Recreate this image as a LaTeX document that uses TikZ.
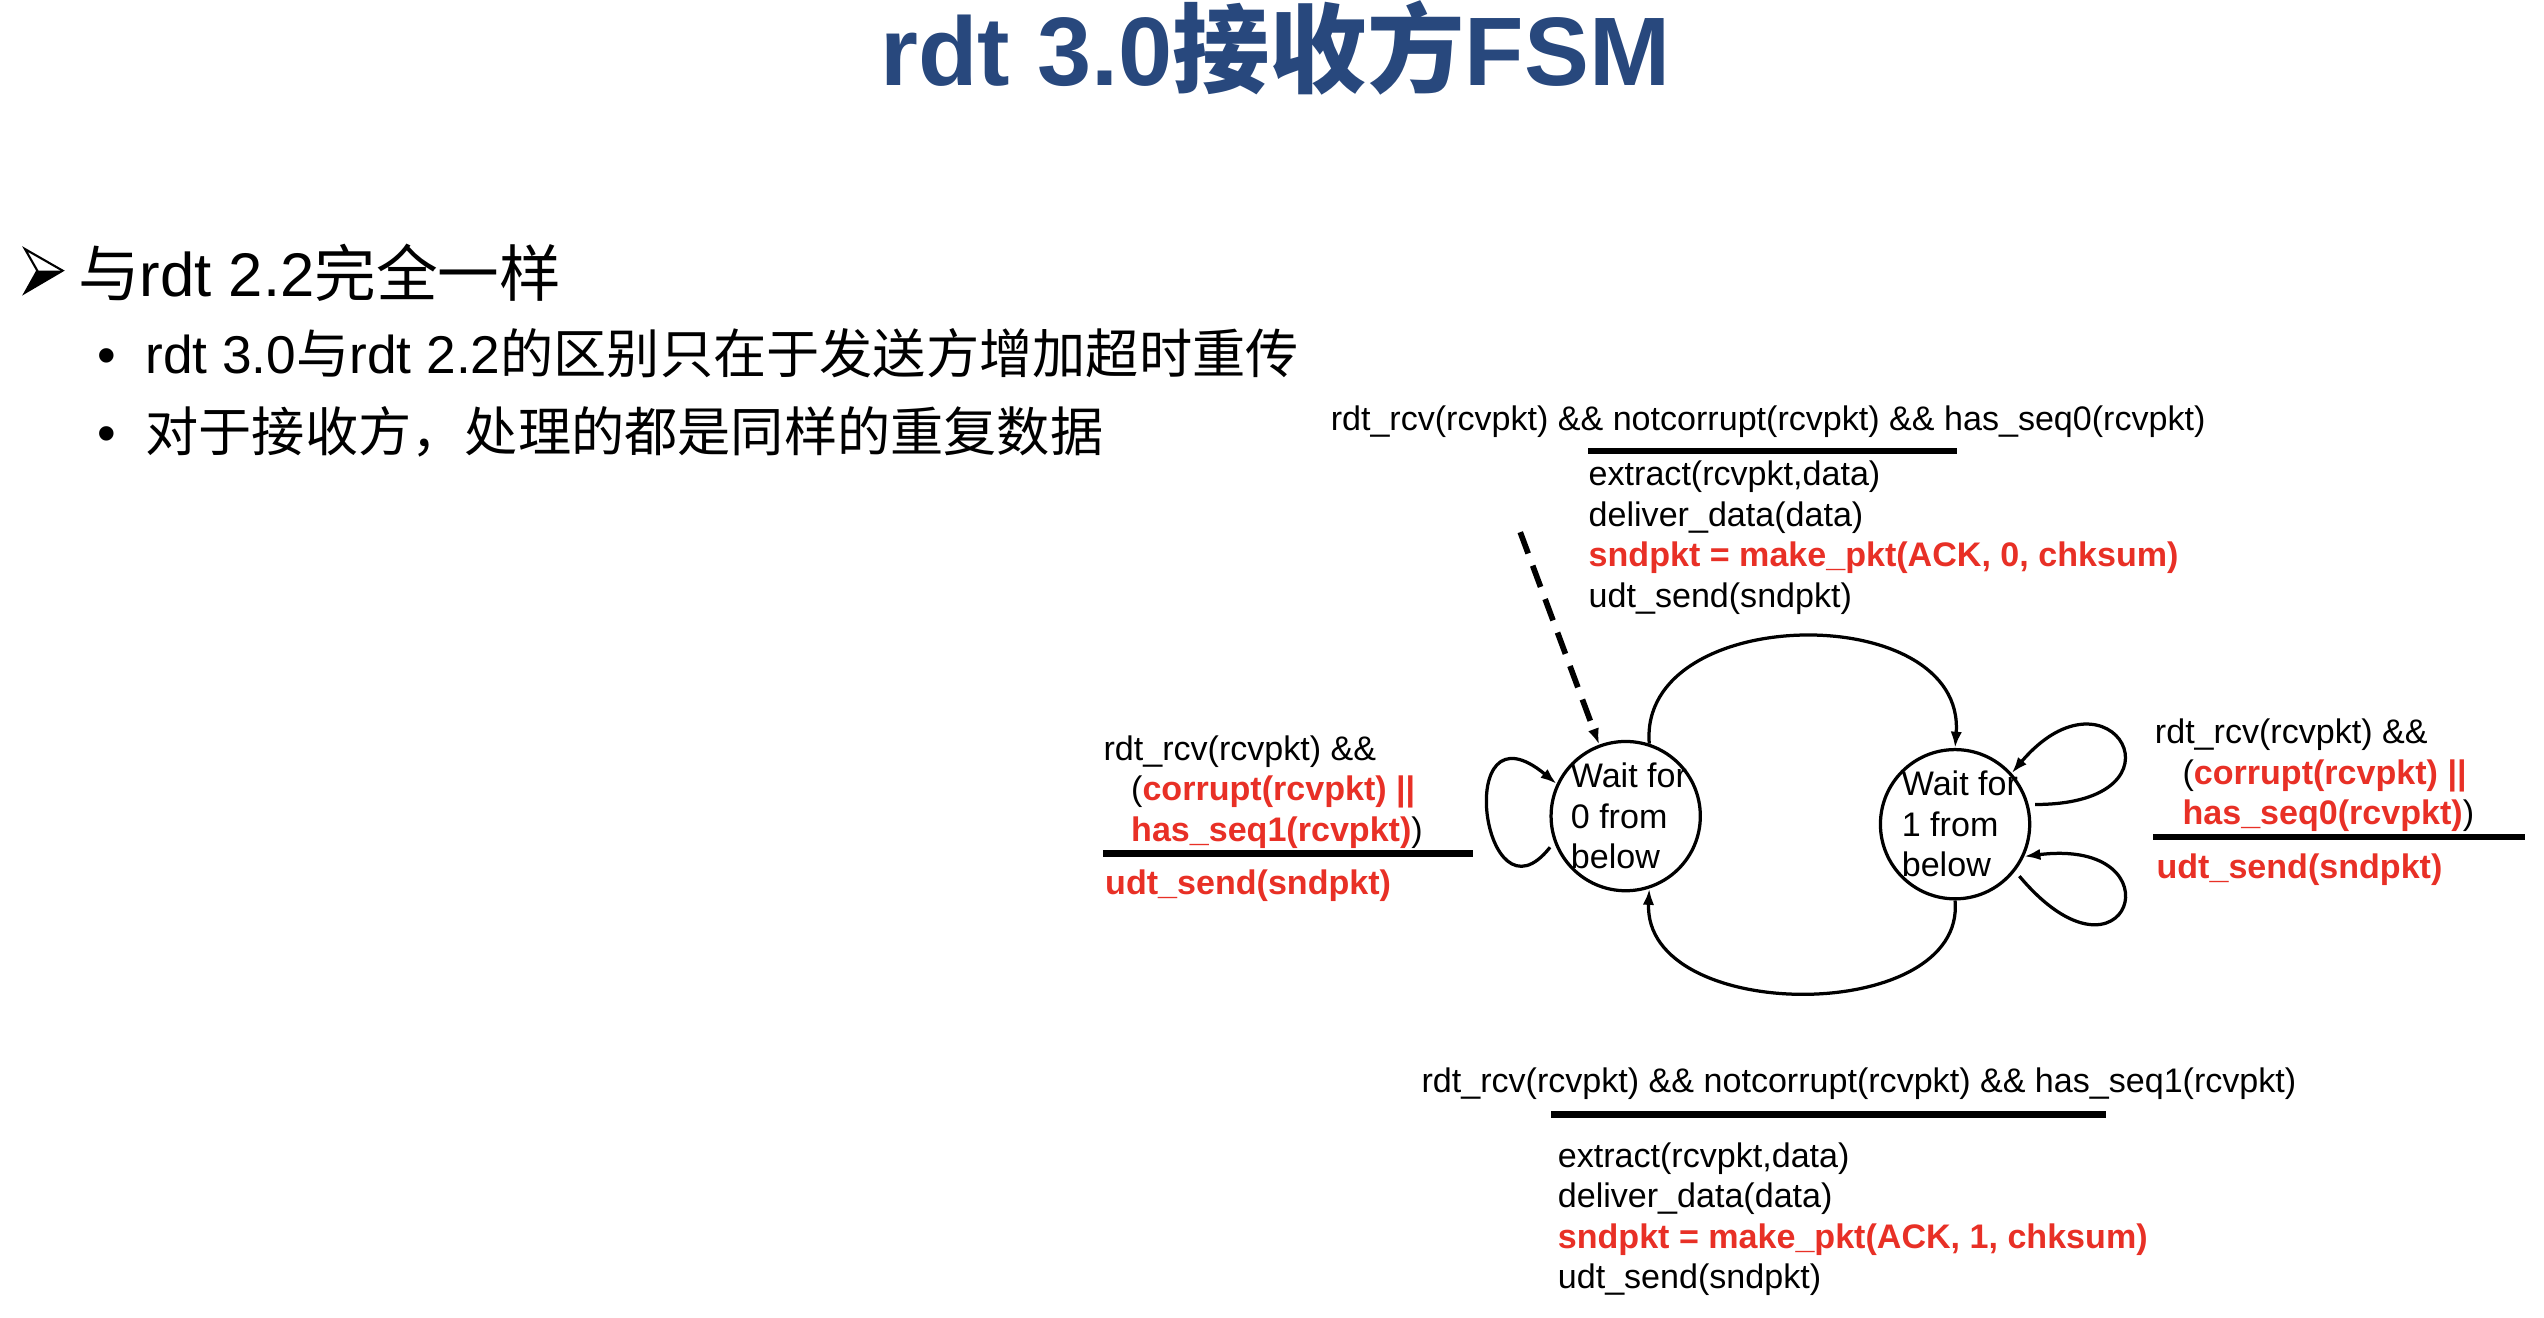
\documentclass[tikz,border=0pt]{standalone}
\usepackage{fontspec}
\setmainfont{Liberation Sans}
\newfontfamily\cjk{Noto Sans CJK SC}
\usetikzlibrary{arrows.meta,positioning}
\definecolor{titleblue}{RGB}{40,72,125}
\definecolor{actred}{RGB}{232,48,38}
\newcommand{\redtxt}[1]{\textcolor{actred}{\bfseries #1}}
\tikzset{%
  >={Latex[width=7pt,length=10pt]},
  % Specifications for style of nodes:
        state/.style = {circle, draw=black, line width=2pt,
                        minimum size=92pt, inner sep=0pt},
       fsmtxt/.style = {inner sep=0pt, align=left,
                        font=\fontsize{21}{25}\selectfont},
        slide/.style = {inner sep=0pt, anchor=west},
  % Specifications for style of lines:
        trans/.style = {line width=2pt, ->},
     selfloop/.style = {trans, shorten <=4pt},
      initarr/.style = {line width=3.5pt, dash pattern=on 14pt off 8pt, ->},
          bar/.style = {line width=4pt}
}
\begin{document}
\begin{tikzpicture}[x=1pt, y=-1pt]
  \useasboundingbox (0,0) rectangle (1568,812);

  \node (title) [inner sep=0pt, anchor=base, text=titleblue,
                 font=\fontsize{60}{64}\selectfont\bfseries] at (786,53) {rdt 3.0{\cjk 接收方}FSM};
  % arrowhead mark
  \draw[line width=1.3pt, line join=miter] (15.4,153.5) -- (38.6,166.8) -- (15.4,180.4) -- (23,166.8) -- cycle;
  \fill (23,166.8) -- (38.6,166.8) -- (15.4,180.4) -- cycle;
  \node (head)  [slide, font=\fontsize{38}{44}\selectfont] at (48,168) {{\cjk 与}rdt 2.2{\cjk 完全一样}};
  \node (item1) [slide, font=\fontsize{32.8}{40}\selectfont] at (60,218)
        {•\hspace*{18pt}rdt 3.0{\cjk 与}rdt 2.2{\cjk 的区别只在于发送方增加超时重传}};
  \node (item2) [slide, font=\fontsize{32.8}{40}\selectfont] at (60,266)
        {•\hspace*{18pt}{\cjk 对于接收方，处理的都是同样的重复数据}};

  % states
  \node (w0) [state] at (1002,503) {};
  \node (w1) [state] at (1205,508) {};
  \node (t0) [fsmtxt, anchor=west] at ([xshift=-34pt]w0.center) {Wait for\\0 from\\below};
  \node (t1) [fsmtxt, anchor=west] at ([xshift=-33pt]w1.center) {Wait for\\1 from\\below};

  % seq0 ok
  \node (g0) [fsmtxt, anchor=west] at (820,260)
        {rdt\_rcv(rcvpkt) \&\& notcorrupt(rcvpkt) \&\& has\_seq0(rcvpkt)};
  \draw[bar] (979,278) -- (1206,278);
  \node (a0) [fsmtxt, anchor=north west] at (979,284)
        {extract(rcvpkt,data)\\deliver\_data(data)\\\redtxt{sndpkt = make\_pkt(ACK, 0, chksum)}\\udt\_send(sndpkt)};

  % seq1 ok
  \node (g1) [fsmtxt, anchor=west] at (876,668)
        {rdt\_rcv(rcvpkt) \&\& notcorrupt(rcvpkt) \&\& has\_seq1(rcvpkt)};
  \draw[bar] (956,687) -- (1298,687);
  \node (a1) [fsmtxt, anchor=north west] at (960,704)
        {extract(rcvpkt,data)\\deliver\_data(data)\\\redtxt{sndpkt = make\_pkt(ACK, 1, chksum)}\\udt\_send(sndpkt)};

  % resend in wait0
  \node (g2) [fsmtxt, anchor=north west] at (680,453)
        {rdt\_rcv(rcvpkt) \&\&\\\hspace*{17pt}(\redtxt{corrupt(rcvpkt) ||}\\\hspace*{17pt}\redtxt{has\_seq1(rcvpkt)})};
  \draw[bar] (680,526) -- (908,526);
  \node (a2) [fsmtxt, anchor=west] at (681,546) {\redtxt{udt\_send(sndpkt)}};

  % resend in wait1
  \node (g3) [fsmtxt, anchor=north west] at (1328,443)
        {rdt\_rcv(rcvpkt) \&\&\\\hspace*{17pt}(\redtxt{corrupt(rcvpkt) ||}\\\hspace*{17pt}\redtxt{has\_seq0(rcvpkt)})};
  \draw[bar] (1327,516) -- (1556,516);
  \node (a3) [fsmtxt, anchor=west] at (1329,536) {\redtxt{udt\_send(sndpkt)}};

  \coordinate (start) at (937,328);
    \draw[initarr]  (start) -- (w0);
    \draw[trans]    (w0.72) .. controls +(-7,-87) and +(7,-92) .. (w1.north);
    \draw[trans]    (w1.south) .. controls +(7,77) and +(-4,84) .. (w0.-72);
    \draw[selfloop] (w0.200) .. controls +(-44,56) and +(-65,-54) .. (w0.155);
    \draw[selfloop] (w1.15) .. controls +(103,0) and +(61,-72) .. (w1.42);
    \draw[selfloop] (w1.-38) .. controls +(69,82) and +(98,-12) .. (w1.-25);
\end{tikzpicture}
\end{document}
